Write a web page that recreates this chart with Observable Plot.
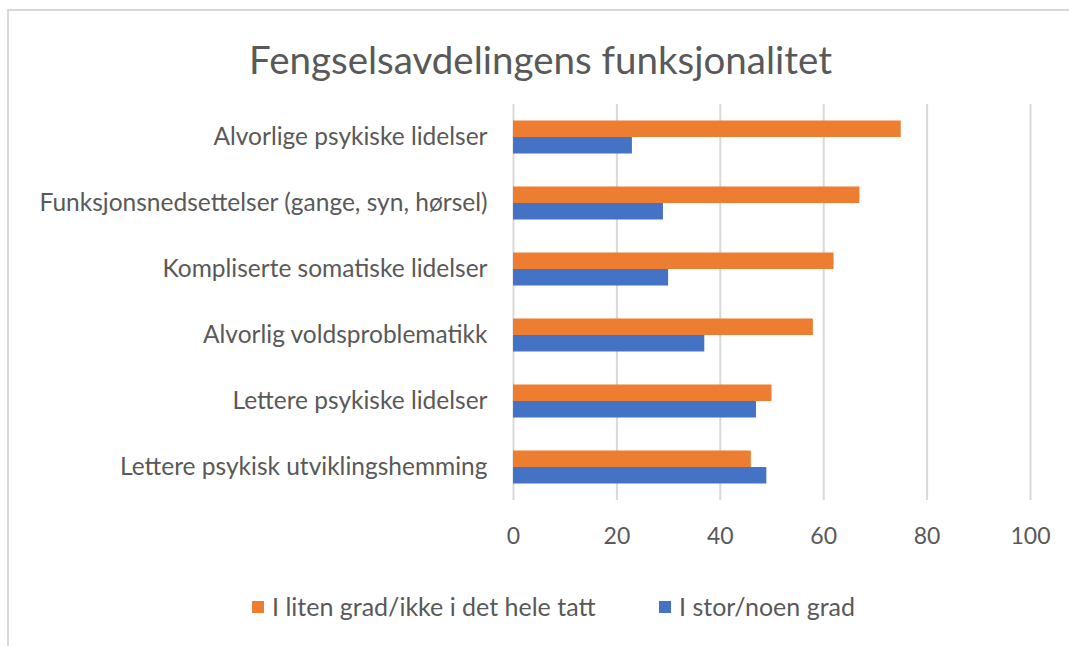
<!DOCTYPE html>
<html><head><meta charset="utf-8">
<script src="https://cdn.jsdelivr.net/npm/d3@7"></script>
<script src="https://cdn.jsdelivr.net/npm/@observablehq/plot@0.6"></script>
<style>
  body{margin:0;background:#fff;font-family:Lato,sans-serif;color:#595959;overflow:hidden}
  #frame{position:absolute;left:7px;top:9px;width:1080px;height:660px;border-top:2px solid #d9d9d9;border-left:2px solid #d9d9d9;box-sizing:border-box}
  #wrap{position:absolute;left:0;top:0;width:1069px}
  #title{height:95px;box-sizing:border-box;padding-top:40px;padding-left:12px;text-align:center;font-size:38.5px;line-height:1;}
  #chart svg{display:block}
  #legend{position:relative;height:40px;font-size:25px;line-height:1}
  .item{position:absolute;top:39px;display:flex;align-items:center}
  .sw{width:12px;height:12px;margin-right:8px}
</style>
</head><body>
<div id="frame"></div>
<div id="wrap">
  <div id="title">Fengselsavdelingens funksjonalitet</div>
  <div id="chart"></div>
  <div id="legend"></div>
</div>
<script>
const categories = [
  "Alvorlige psykiske lidelser",
  "Funksjonsnedsettelser (gange, syn, hørsel)",
  "Kompliserte somatiske lidelser",
  "Alvorlig voldsproblematikk",
  "Lettere psykiske lidelser",
  "Lettere psykisk utviklingshemming"
];
const seriesNames = ["I liten grad/ikke i det hele tatt", "I stor/noen grad"];
const seriesColors = ["#ED7D31", "#4472C4"];
const litenGrad = [75, 67, 62, 58, 50, 46];
const storGrad = [23, 29, 30, 37, 47, 49];
const xTicks = [0, 20, 40, 60, 80, 100];

const rows = categories.map((c, i) => ({category: c, liten: litenGrad[i], stor: storGrad[i]}));

const plot = Plot.plot({
  width: 1069,
  height: 460,
  marginTop: 9,
  marginBottom: 55,
  marginLeft: 513,
  marginRight: 39,
  style: {fontFamily: "Lato, sans-serif", fontSize: "24.5px", color: "#595959", background: "transparent"},
  x: {domain: [0, 100], label: null},
  y: {domain: categories, paddingInner: 0.5, paddingOuter: 0.25, round: false, label: null},
  marks: [
    Plot.ruleX(xTicks, {x: d => d, stroke: "#d9d9d9", strokeWidth: 2}),
    Plot.barX(rows, {y: "category", x: "liten", fill: seriesColors[0], insetBottom: 16.5}),
    Plot.barX(rows, {y: "category", x: "stor", fill: seriesColors[1], insetTop: 16.5}),
    Plot.axisY({tickSize: 0, tickPadding: 26, label: null}),
    Plot.axisX({ticks: xTicks, tickSize: 0, tickPadding: 27, fontSize: 23, label: null})
  ]
});
document.getElementById("chart").appendChild(plot);

const legend = document.getElementById("legend");
const lx = [252, 659];
seriesNames.forEach((name, i) => {
  const it = document.createElement("div");
  it.className = "item";
  it.style.left = lx[i] + "px";
  it.innerHTML = `<span class="sw" style="background:${seriesColors[i]}"></span><span>${name}</span>`;
  legend.appendChild(it);
});
</script>
</body></html>
